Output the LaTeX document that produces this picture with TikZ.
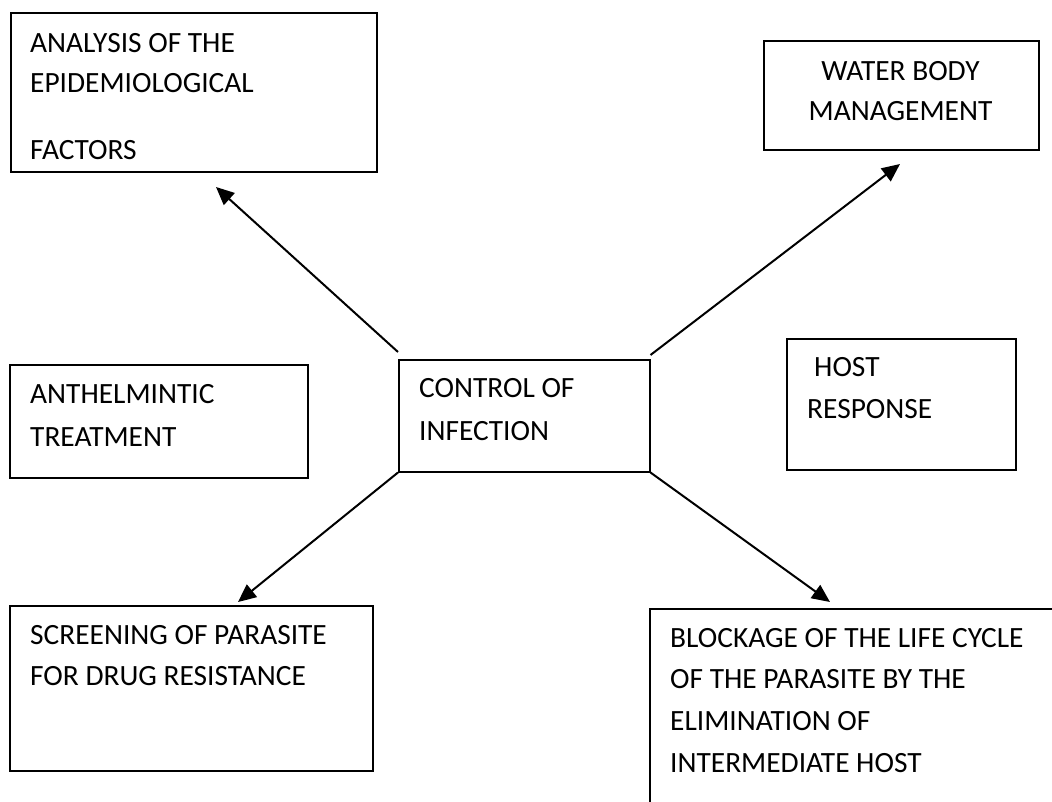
\documentclass[tikz,border=0pt]{standalone}
\usepackage{fontspec}
\setmainfont{Carlito}
\usetikzlibrary{arrows.meta}
\tikzset{
  box/.style={draw=black, line width=1.5pt, inner sep=0pt, anchor=north west},
  txt/.style={inner sep=0pt, anchor=base west, font=\fontsize{29.4}{#1}\selectfont},
  txt/.default=40,
  arr/.style={line width=2pt, -{Triangle[length=18pt,width=16pt]}},
}
\begin{document}
\begin{tikzpicture}[x=1pt,y=-1pt]
\useasboundingbox (0,0) rectangle (1052,801);
\clip (0,0) rectangle (1052,801);
\fill[white] (0,0) rectangle (1052,801);
% boxes
\node[box, minimum width=366pt, minimum height=159pt] (b1) at (10,12) {};
\node[box, minimum width=275pt, minimum height=109pt] (b2) at (763,40) {};
\node[box, minimum width=251pt, minimum height=112pt] (b3) at (398,359) {};
\node[box, minimum width=298pt, minimum height=113pt] (b4) at (9,364) {};
\node[box, minimum width=229pt, minimum height=131pt] (b5) at (786,338) {};
\node[box, minimum width=363pt, minimum height=165pt] (b6) at (9,605) {};
\node[box, minimum width=430pt, minimum height=230pt] (b7) at (649,608) {};
% texts
\node[txt=40] (l1) at (30,52) {\begin{tabular}[t]{@{}l@{}}ANALYSIS OF THE\\EPIDEMIOLOGICAL\\[27pt]FACTORS\end{tabular}};
\node[txt=40, anchor=base] (l2) at (900.5,80) {\begin{tabular}[t]{@{}c@{}}WATER BODY\\MANAGEMENT\end{tabular}};
\node[txt=43] (l3) at (419,397) {\begin{tabular}[t]{@{}l@{}}CONTROL OF\\INFECTION\end{tabular}};
\node[txt=43] (l4) at (30,403) {\begin{tabular}[t]{@{}l@{}}ANTHELMINTIC\\TREATMENT\end{tabular}};
\node[txt=42] (l5) at (807,376) {\begin{tabular}[t]{@{}l@{}}\hspace*{7pt}HOST\\RESPONSE\end{tabular}};
\node[txt=41] (l6) at (30,644) {\begin{tabular}[t]{@{}l@{}}SCREENING OF PARASITE\\FOR DRUG RESISTANCE\end{tabular}};
\node[txt=41.7] (l7) at (670,647) {\begin{tabular}[t]{@{}l@{}}BLOCKAGE OF THE LIFE CYCLE\\OF THE PARASITE BY THE\\ELIMINATION OF\\INTERMEDIATE HOST\end{tabular}};
% arrow tips
\coordinate (p1) at (216,187);
\coordinate (p2) at (900,164);
\coordinate (p3) at (238,602);
\coordinate (p4) at (830,602);
% arrows
\draw[arr] ([yshift=7pt]b3.north west) -- (p1);
\draw[arr] ([yshift=4pt]b3.north east) -- (p2);
\draw[arr] (b3.south west) -- (p3);
\draw[arr] (b3.south east) -- (p4);
\end{tikzpicture}
\end{document}
